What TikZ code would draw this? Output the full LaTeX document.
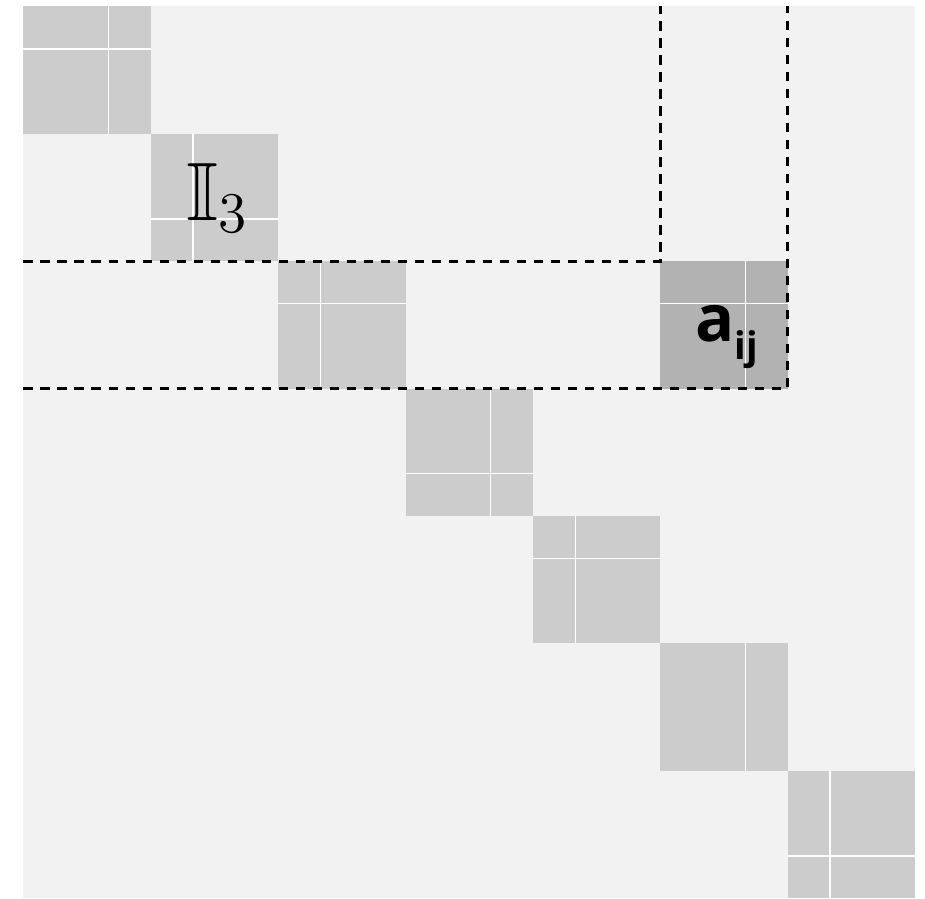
\documentclass[tikz,border=0pt]{standalone}
\usepackage{fontspec}
\usepackage{amssymb}
\newfontfamily\opensans{Open Sans}
\begin{document}
\begin{tikzpicture}[x=1cm,y=1cm,
  blk/.style={fill=gray!40},
  hot/.style={fill=gray!60},
  split/.style={draw=white,line width=0.35pt},
  band/.style={draw=black,line width=0.6pt,dash pattern=on 2.1pt off 1.7pt}]
\useasboundingbox (-0.184,0.051) rectangle (7.077,-7);
% matrix
\fill[gray!10] (0,0) rectangle (7,-7);
% diagonal blocks
\fill[blk] (0,0) rectangle (1,-1); \draw[split] (0.667,0)--(0.667,-1); \draw[split] (0,-0.333)--(1,-0.333);
\fill[blk] (1,-1) rectangle (2,-2); \draw[split] (1.333,-1)--(1.333,-2); \draw[split] (1,-1.667)--(2,-1.667);
\fill[blk] (2,-2) rectangle (3,-3); \draw[split] (2.333,-2)--(2.333,-3); \draw[split] (2,-2.333)--(3,-2.333);
\fill[blk] (3,-3) rectangle (4,-4); \draw[split] (3.667,-3)--(3.667,-4); \draw[split] (3,-3.667)--(4,-3.667);
\fill[blk] (4,-4) rectangle (5,-5); \draw[split] (4.333,-4)--(4.333,-5); \draw[split] (4,-4.333)--(5,-4.333);
\fill[blk] (5,-5) rectangle (6,-6); \draw[split] (5.667,-5)--(5.667,-6);
\fill[blk] (6,-6) rectangle (7,-7); \draw[split] (6.333,-6)--(6.333,-7); \draw[split] (6,-6.667)--(7,-6.667);
% picked entry
\fill[hot] (5,-2) rectangle (6,-3); \draw[split] (5.667,-2)--(5.667,-3); \draw[split] (5,-2.333)--(6,-2.333);
% row and column bands
\draw[band] (0,-2) -| (5,0);
\draw[band] (0,-3) -| (6,0);
% labels
\node[anchor=base west,inner sep=0pt] (ident) at (1.27,-1.676) {\scalebox{1.07}{\LARGE$\mathbb{I}_3$}};
\node[anchor=base west,inner sep=0pt,font=\opensans\bfseries\fontsize{14.5}{17}\selectfont] (entry) at (5.27,-2.633)
  {a\raisebox{-4pt}{\fontsize{8.5}{10}\selectfont ij}};
\end{tikzpicture}
\end{document}
